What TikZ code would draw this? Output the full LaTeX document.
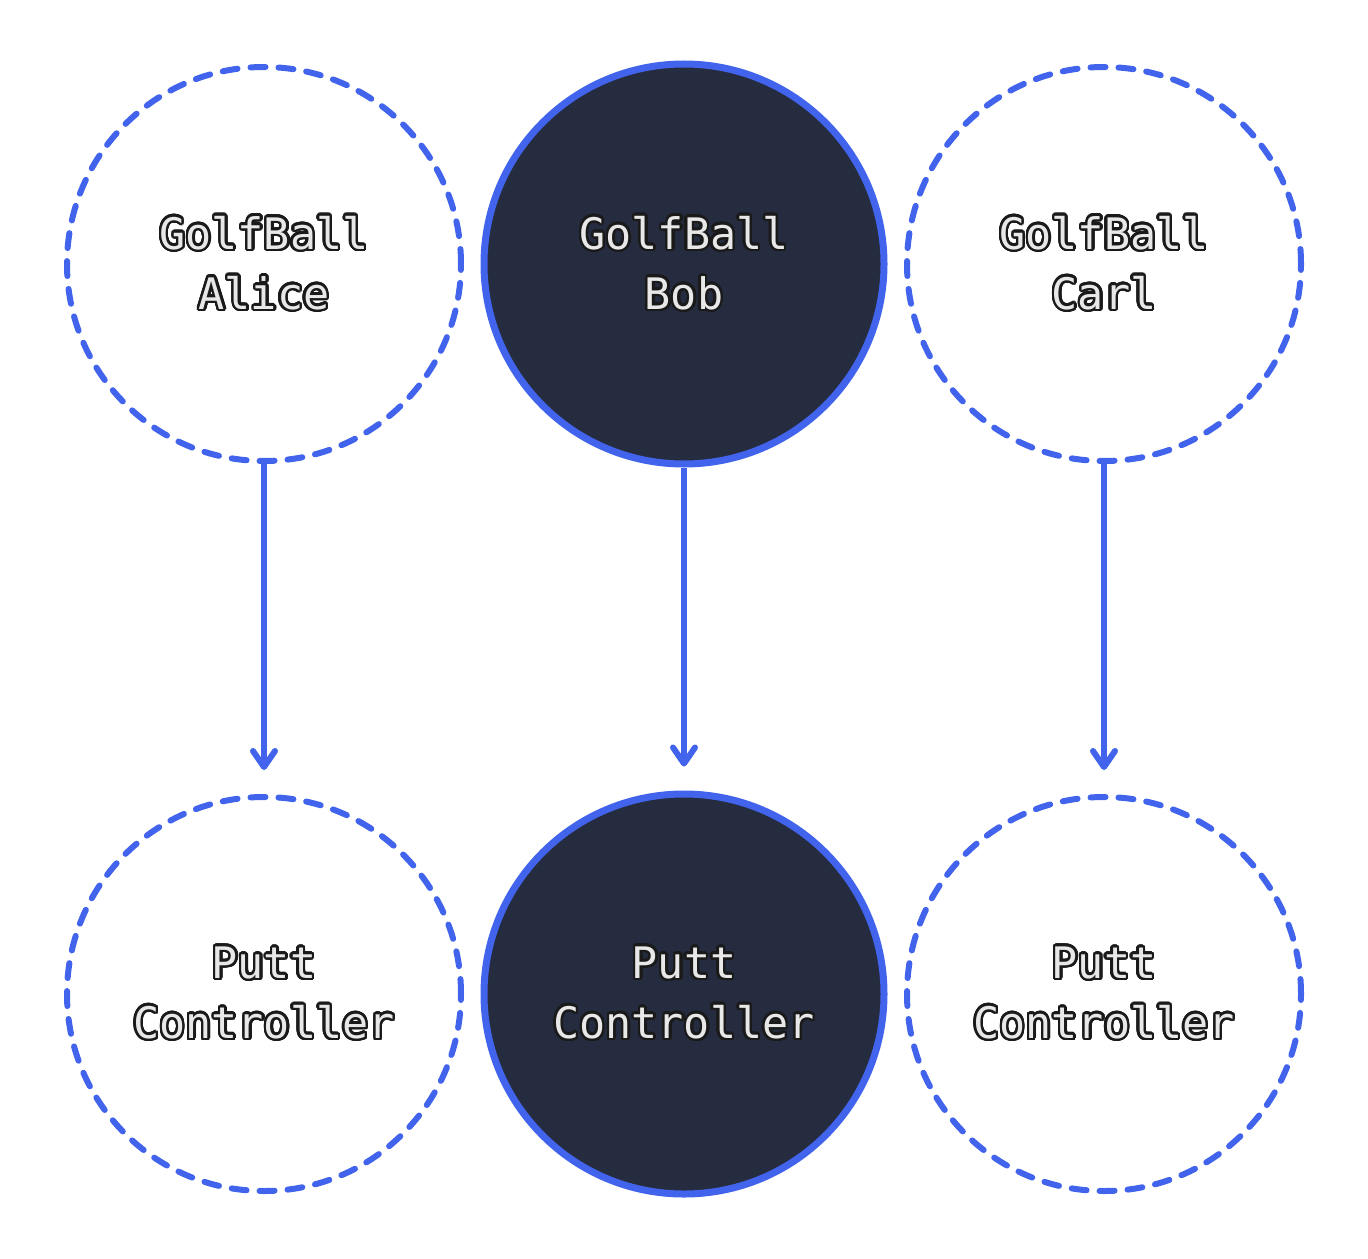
\documentclass[tikz,border=0pt]{standalone}
\usepackage{fontspec}
\setmonofont{DejaVu Sans Mono}
\usepackage{contour}
\contourlength{1.2pt}
\contournumber{32}
\usetikzlibrary{arrows.meta,positioning}

\definecolor{ballblue}{HTML}{4263EB}
\definecolor{navy}{HTML}{262C40}
\definecolor{labelgray}{HTML}{E8E8E8}
\definecolor{outline}{HTML}{1A1A1A}

\newcommand{\lbl}[2]{\contour{outline}{#1}\\\contour{outline}{#2}}

\begin{document}
\begin{tikzpicture}[->,>={Straight Barb[round,length=8pt,width=11pt]},
                    shorten >=12pt,line width=3pt,draw=ballblue,
                    on grid,node distance=365pt and 210pt,
                    ball/.style={circle,align=center,
                      text=labelgray,font=\ttfamily\fontsize{21.7}{30}\selectfont},
                    ghost/.style={ball,minimum size=197pt,draw=ballblue,
                      dash pattern=on 7.5pt off 6.5pt,line cap=round},
                    real/.style={ball,minimum size=200pt,draw=ballblue,
                      fill=navy,line width=3.5pt}]

  \useasboundingbox (-132pt,132pt) rectangle (552pt,-497pt);

  \node[ghost] (alice)                  {\lbl{GolfBall}{Alice}};
  \node[real]  (bob)   [right=of alice] {\lbl{GolfBall}{Bob}};
  \node[ghost] (carl)  [right=of bob]   {\lbl{GolfBall}{Carl}};
  \node[ghost] (putta) [below=of alice] {\lbl{Putt}{Controller}};
  \node[real]  (puttb) [below=of bob]   {\lbl{Putt}{Controller}};
  \node[ghost] (puttc) [below=of carl]  {\lbl{Putt}{Controller}};

  \path (alice) edge node {} (putta)
        (bob)   edge node {} (puttb)
        (carl)  edge node {} (puttc);
\end{tikzpicture}
\end{document}
